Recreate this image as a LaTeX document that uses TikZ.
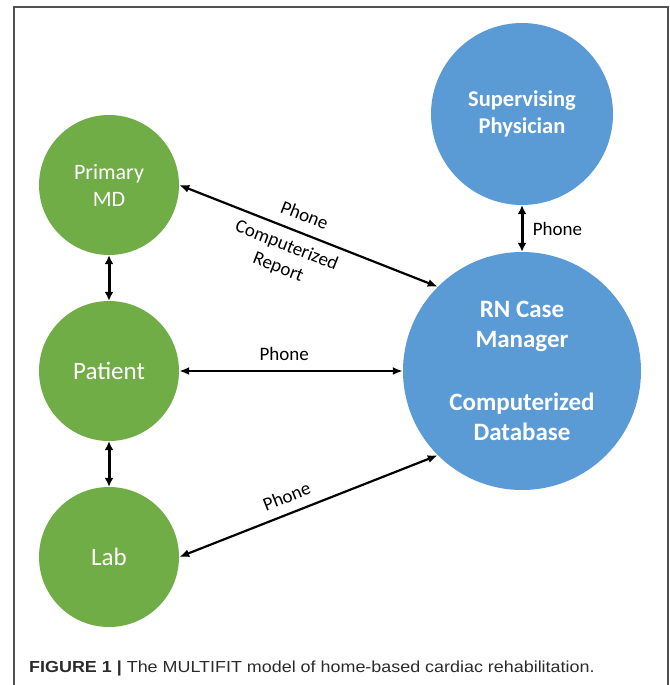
\documentclass[tikz,border=0pt]{standalone}
\usepackage{fontspec}
\setmainfont{Carlito}
\newfontfamily\capfont[FakeStretch=1.12]{Liberation Sans}
\usepackage{xcolor}
\usetikzlibrary{arrows,arrows.meta}
\definecolor{mdgreen}{HTML}{70AD47}
\definecolor{rnblue}{HTML}{5B9BD5}
\definecolor{framegray}{HTML}{505050}
\definecolor{capgray}{HTML}{2B2B2B}

\begin{document}
\begin{tikzpicture}[x=1pt,y=1pt,
    greennode/.style={circle,fill=mdgreen,text=white,minimum size=140pt,inner sep=0pt,align=center},
    bluenode/.style={circle,fill=rnblue,text=white,inner sep=0pt,align=center},
    link/.style={line width=2.2pt,{Latex[length=10pt,width=8pt]}-{Latex[length=10pt,width=8pt]}},
    vlink/.style={link,line width=3pt,{Latex[length=9pt,width=9pt]}-{Latex[length=9pt,width=9pt]}},
    lbl/.style={font=\fontsize{19}{23}\selectfont,align=center}]
    \useasboundingbox (0,0) rectangle (669,-685);
    \draw[framegray,line width=1.5pt] (14,-686) -- (14,-7) -- (668,-7) -- (668,-686);
    \node[greennode,font=\fontsize{22}{27}\selectfont] (md) at (109,-185) {Primary\\MD};
    \node[greennode,font=\fontsize{25}{30}\selectfont] (pat) at (109,-371) {Patient};
    \node[greennode,font=\fontsize{25}{30}\selectfont] (lab) at (109,-557) {Lab};
    \node[bluenode,minimum size=182pt,font=\bfseries\fontsize{22.5}{27}\selectfont] (sup) at (522,-114) {Supervising\\Physician};
    \node[bluenode,minimum size=238pt,font=\bfseries\fontsize{25}{30}\selectfont] (rn) at (522,-371) {RN Case\\Manager\\[33pt]Computerized\\Database};
    \draw[vlink] (md) -- (pat);
    \draw[vlink] (pat) -- (lab);
    \draw[vlink] (sup) -- (rn) node[lbl,midway,right=6pt] {Phone};
    \draw[link] (md.east) -- (rn.north west)
      node[lbl,pos=0.46,sloped,above=7pt] {Phone}
      node[lbl,pos=0.44,sloped,below=5pt] {Computerized\\Report};
    \draw[link] (pat) -- (rn) node[lbl,pos=0.47,above=6pt] {Phone};
    \draw[link] (lab.east) -- (rn.south west) node[lbl,pos=0.44,sloped,above=6pt] {Phone};
    \node[anchor=base west,inner sep=0pt,text=capgray,font=\capfont\fontsize{16}{19}\selectfont] (cap) at (29,-672)
      {\textbf{FIGURE 1 |} The MULTIFIT model of home-based cardiac rehabilitation.};
\end{tikzpicture}
\end{document}
